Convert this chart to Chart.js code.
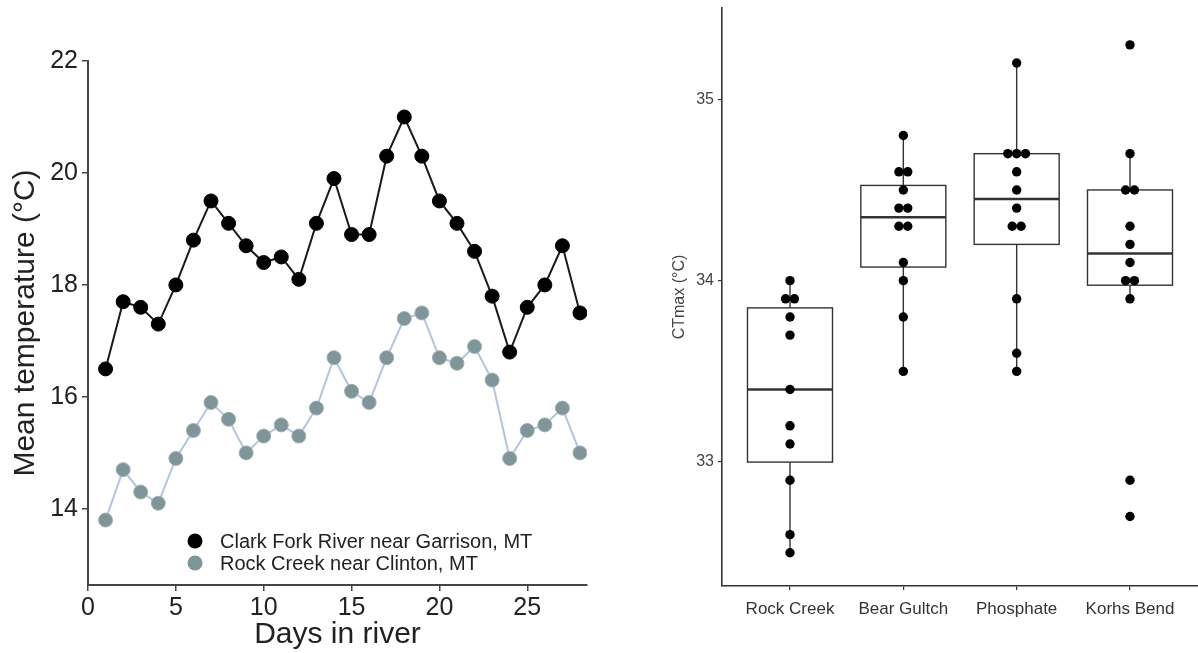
<!DOCTYPE html>
<html><head><meta charset="utf-8">
<script src="https://cdn.jsdelivr.net/npm/chart.js@4.4.1/dist/chart.umd.min.js"></script>
<style>
html,body{margin:0;padding:0;background:#fff;}
#wrap{position:relative;width:1198px;height:653px;overflow:hidden;}
#c1{position:absolute;left:0;top:0;}
#c2{position:absolute;left:600px;top:0;}
</style></head><body>
<div id="wrap">
<canvas id="c1" width="600" height="653"></canvas>
<canvas id="c2" width="598" height="653"></canvas>
</div>
<script>
// ---------- data: left panel ----------
const days = [1,2,3,4,5,6,7,8,9,10,11,12,13,14,15,16,17,18,19,20,21,22,23,24,25,26,27,28];
const clarkForkTemp = [16.5,17.7,17.6,17.3,18.0,18.8,19.5,19.1,18.7,18.4,18.5,18.1,19.1,19.9,18.9,18.9,20.3,21.0,20.3,19.5,19.1,18.6,17.8,16.8,17.6,18.0,18.7,17.5];
const rockCreekTemp = [13.8,14.7,14.3,14.1,14.9,15.4,15.9,15.6,15.0,15.3,15.5,15.3,15.8,16.7,16.1,15.9,16.7,17.4,17.5,16.7,16.6,16.9,16.3,14.9,15.4,15.5,15.8,15.0];
const seriesNames = ['Clark Fork River near Garrison, MT','Rock Creek near Clinton, MT'];
const leftXTicks = [0,5,10,15,20,25];
const leftYTicks = [14,16,18,20,22];

// ---------- data: right panel ----------
const sites = ['Rock Creek','Bear Gultch','Phosphate','Korhs Bend'];
const ctRockCreek = [34.0,33.9,33.9,33.8,33.7,33.4,33.2,33.1,32.9,32.6,32.5];
const ctBearGultch = [34.8,34.6,34.6,34.5,34.4,34.4,34.3,34.3,34.1,34.0,33.8,33.5];
const ctPhosphate = [35.2,34.7,34.7,34.7,34.6,34.5,34.4,34.3,34.3,33.9,33.6,33.5];
const ctKorhsBend = [35.3,34.7,34.5,34.5,34.3,34.2,34.1,34.0,34.0,33.9,32.9,32.7];
const rightYTicks = [33,34,35];

const F = "'Liberation Sans', Arial, Helvetica, sans-serif";

function noPadX(s, h){ s.height = h; s.paddingLeft = 0; s.paddingRight = 0; }
function noPadY(s, w){ s.width = w; s.paddingTop = 0; s.paddingBottom = 0; }

// ---------- left chart ----------
const legendPlugin = {
  id:'innerLegend',
  afterDraw(chart){
    const ctx = chart.ctx;
    ctx.save();
    chart.data.datasets.forEach((ds,i)=>{
      const y = 541 + i*22;
      ctx.beginPath();
      ctx.arc(195, y, 7.5, 0, Math.PI*2);
      ctx.fillStyle = ds.pointBackgroundColor;
      ctx.fill();
      ctx.fillStyle = '#222';
      ctx.font = '20px ' + F;
      ctx.textBaseline = 'middle';
      ctx.textAlign = 'left';
      ctx.fillText(ds.label, 220, y + 1);
    });
    ctx.restore();
  }
};

new Chart(document.getElementById('c1'), {
  type:'scatter',
  data:{
    datasets:[
      {label:seriesNames[0], data:days.map((d,i)=>({x:d,y:clarkForkTemp[i]})), showLine:true,
       borderColor:'#1a1a1a', borderWidth:2, pointBackgroundColor:'#000', pointBorderColor:'#000',
       pointRadius:7, pointBorderWidth:1, order:1},
      {label:seriesNames[1], data:days.map((d,i)=>({x:d,y:rockCreekTemp[i]})), showLine:true,
       borderColor:'#b3c4dc', borderWidth:2, pointBackgroundColor:'#7f959a', pointBorderColor:'#9db0b4',
       pointRadius:7, pointBorderWidth:1, order:2}
    ]
  },
  options:{
    responsive:false, animation:false,
    layout:{autoPadding:false, padding:{left:0,right:13,top:61,bottom:0}},
    plugins:{legend:{display:false}, tooltip:{enabled:false}},
    scales:{
      x:{type:'linear', min:0, max:28.4,
        afterBuildTicks:s=>{s.ticks = leftXTicks.map(v=>({value:v}));},
        afterFit:s=>noPadX(s,68),
        grid:{drawOnChartArea:false, drawTicks:true, tickLength:6, color:'#444', lineWidth:1.5},
        border:{display:true, color:'#444', width:2},
        ticks:{font:{family:F,size:25}, color:'#222', padding:2, maxRotation:0, autoSkip:false},
        title:{display:true, text:'Days in river', font:{family:F,size:30}, color:'#222', padding:{top:0,bottom:0}}
      },
      y:{type:'linear', min:12.64, max:22,
        afterBuildTicks:s=>{s.ticks = leftYTicks.map(v=>({value:v}));},
        afterFit:s=>noPadY(s,88),
        grid:{drawOnChartArea:false, drawTicks:true, tickLength:6, color:'#444', lineWidth:1.5},
        border:{display:true, color:'#444', width:2},
        ticks:{font:{family:F,size:25}, color:'#222', padding:4, autoSkip:false},
        title:{display:true, text:'Mean temperature (°C)', font:{family:F,size:30}, color:'#222', padding:{top:8,bottom:0}}
      }
    }
  },
  plugins:[legendPlugin]
});

// ---------- right chart ----------
const groups = [ctRockCreek, ctBearGultch, ctPhosphate, ctKorhsBend];

function quantile(sorted, p){
  const pos = (sorted.length-1)*p;
  const lo = Math.floor(pos), hi = Math.ceil(pos);
  return sorted[lo] + (sorted[hi]-sorted[lo])*(pos-lo);
}
const boxStats = groups.map(g=>{
  const s = g.slice().sort((a,b)=>a-b);
  const q1 = quantile(s,0.25), med = quantile(s,0.5), q3 = quantile(s,0.75);
  const iqr = q3-q1;
  const lowFence = q1 - 1.5*iqr - 1e-9, highFence = q3 + 1.5*iqr + 1e-9;
  const inside = s.filter(v=>v>=lowFence && v<=highFence);
  return {q1, med, q3, wlo:inside[0], whi:inside[inside.length-1]};
});

// dot-plot points: tied values are spread side by side
const dotPoints = [];
groups.forEach((g,gi)=>{
  const counts = {};
  g.forEach(v=>{counts[v]=(counts[v]||0)+1;});
  const seen = {};
  g.forEach(v=>{
    const n = counts[v]; const k = seen[v]||0; seen[v]=k+1;
    dotPoints.push({x: gi + (k-(n-1)/2)*0.078, y: v});
  });
});

const boxPlugin = {
  id:'boxes',
  beforeDatasetsDraw(chart){
    const ctx = chart.ctx, xs = chart.scales.x, ys = chart.scales.y;
    const halfW = 0.375;
    ctx.save();
    ctx.strokeStyle = '#333';
    boxStats.forEach((b,i)=>{
      const xl = xs.getPixelForValue(i-halfW), xr = xs.getPixelForValue(i+halfW), xc = xs.getPixelForValue(i);
      const y1 = ys.getPixelForValue(b.q1), y3 = ys.getPixelForValue(b.q3), ym = ys.getPixelForValue(b.med);
      ctx.lineWidth = 1.4;
      ctx.beginPath();
      ctx.moveTo(xc, ys.getPixelForValue(b.whi)); ctx.lineTo(xc, y3);
      ctx.moveTo(xc, y1); ctx.lineTo(xc, ys.getPixelForValue(b.wlo));
      ctx.stroke();
      ctx.fillStyle = '#fff';
      ctx.fillRect(xl, y3, xr-xl, y1-y3);
      ctx.strokeRect(xl, y3, xr-xl, y1-y3);
      ctx.lineWidth = 2.4;
      ctx.beginPath(); ctx.moveTo(xl, ym); ctx.lineTo(xr, ym); ctx.stroke();
    });
    ctx.restore();
  }
};

new Chart(document.getElementById('c2'), {
  type:'scatter',
  data:{datasets:[{label:'CTmax', data:dotPoints, pointRadius:4.7, pointBorderWidth:0,
    pointBackgroundColor:'#000', pointBorderColor:'#000'}]},
  options:{
    responsive:false, animation:false,
    layout:{autoPadding:false, padding:{left:0,right:0,top:8,bottom:0}},
    plugins:{legend:{display:false}, tooltip:{enabled:false}},
    scales:{
      x:{type:'linear', min:-0.6, max:3.6,
        afterBuildTicks:s=>{s.ticks = sites.map((n,i)=>({value:i}));},
        afterFit:s=>noPadX(s,67),
        grid:{drawOnChartArea:false, drawTicks:true, tickLength:4, color:'#333', lineWidth:1.2},
        border:{display:true, color:'#333', width:1.6},
        ticks:{font:{family:F,size:17}, color:'#333', padding:9, maxRotation:0, autoSkip:false,
          callback:v=>sites[v]}
      },
      y:{type:'linear', min:32.317, max:35.503,
        afterBuildTicks:s=>{s.ticks = rightYTicks.map(v=>({value:v}));},
        afterFit:s=>noPadY(s,122),
        grid:{drawOnChartArea:false, drawTicks:true, tickLength:4, color:'#333', lineWidth:1.2},
        border:{display:true, color:'#333', width:1.6},
        ticks:{font:{family:F,size:16}, color:'#444', padding:4, autoSkip:false},
        title:{display:true, text:'CTmax (°C)', font:{family:F,size:16}, color:'#444', padding:{top:70,bottom:0}}
      }
    }
  },
  plugins:[boxPlugin]
});
</script>
</body></html>
